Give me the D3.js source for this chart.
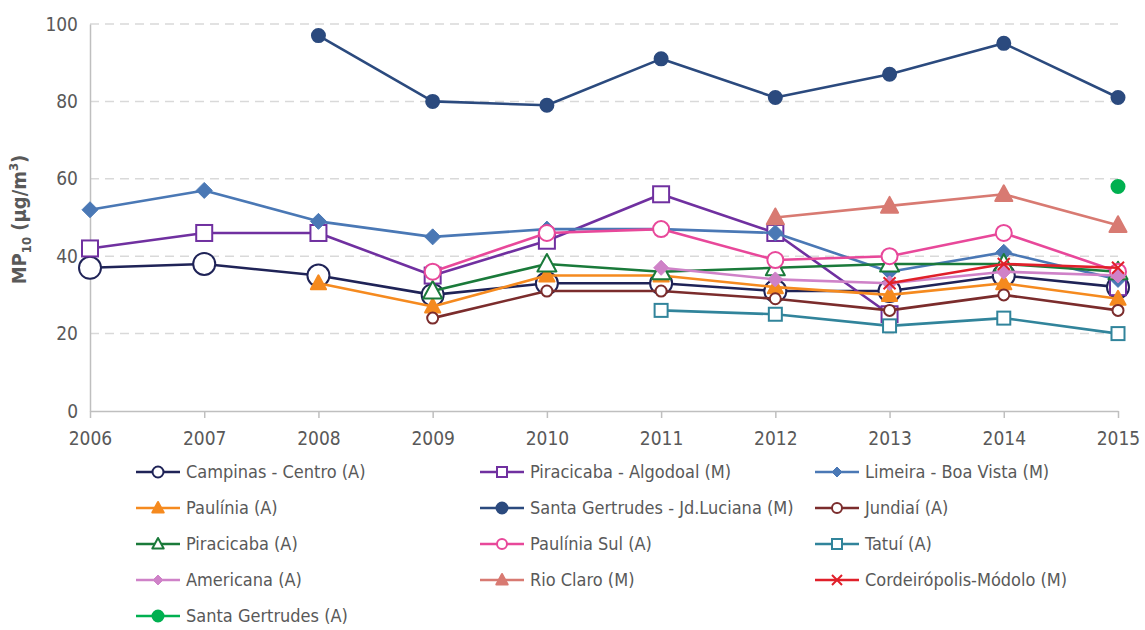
<!DOCTYPE html>
<html>
<head>
<meta charset="utf-8">
<script src="https://cdn.jsdelivr.net/npm/d3@7"></script>
<style>
  html, body { margin: 0; padding: 0; background: #fff; }
  svg text { font-family: "DejaVu Sans Condensed", "Liberation Sans Narrow", "Roboto", sans-serif; fill: #595959; }
</style>
</head>
<body>
<svg id="chart" width="1145" height="630"></svg>
<script>
// Annual mean PM10 per monitoring station
const years = [2006, 2007, 2008, 2009, 2010, 2011, 2012, 2013, 2014, 2015];
const yTicks = [0, 20, 40, 60, 80, 100];

const campinasCentro   = [37, 38, 35, 30, 33, 33, 31, 31, 35, 32];
const piracicabaAlgod  = [42, 46, 46, 35, 44, 56, 46, 25, null, 32];
const limeiraBoaVista  = [52, 57, 49, 45, 47, 47, 46, 36, 41, 34];
const paulinia         = [null, null, 33, 27, 35, 35, 32, 30, 33, 29];
const santaGertJdLuc   = [null, null, 97, 80, 79, 91, 81, 87, 95, 81];
const jundiai          = [null, null, null, 24, 31, 31, 29, 26, 30, 26];
const piracicaba       = [null, null, null, 31, 38, 36, 37, 38, 38, 36];
const pauliniaSul      = [null, null, null, 36, 46, 47, 39, 40, 46, 36];
const tatui            = [null, null, null, null, null, 26, 25, 22, 24, 20];
const americana        = [null, null, null, null, null, 37, 34, 33, 36, 35];
const rioClaro         = [null, null, null, null, null, null, 50, 53, 56, 48];
const cordeiropolis    = [null, null, null, null, null, null, null, 33, 38, 37];
const santaGertrudes   = [null, null, null, null, null, null, null, null, null, 58];

const seriesNames = [
  "Campinas - Centro (A)", "Piracicaba - Algodoal (M)", "Limeira - Boa Vista (M)",
  "Paulínia (A)", "Santa Gertrudes - Jd.Luciana (M)", "Jundiaí (A)",
  "Piracicaba (A)", "Paulínia Sul (A)", "Tatuí (A)",
  "Americana (A)", "Rio Claro (M)", "Cordeirópolis-Módolo (M)",
  "Santa Gertrudes (A)"
];
const seriesValues = [
  campinasCentro, piracicabaAlgod, limeiraBoaVista,
  paulinia, santaGertJdLuc, jundiai,
  piracicaba, pauliniaSul, tatui,
  americana, rioClaro, cordeiropolis,
  santaGertrudes
];

// Styling per series: colour, marker shape, filled?, marker size (plot / legend)
const styles = [
  { color: "#1f2357", shape: "circle",   fill: false, size: 11,  lsize: 5.5 },
  { color: "#7030a0", shape: "square",   fill: false, size: 8,   lsize: 5 },
  { color: "#4a78b5", shape: "diamond",  fill: true,  size: 8,   lsize: 5 },
  { color: "#f58a1f", shape: "triangle", fill: true,  size: 8,   lsize: 6 },
  { color: "#2b4a7e", shape: "circle",   fill: true,  size: 6.5, lsize: 5.5 },
  { color: "#7b2c2c", shape: "circle",   fill: false, size: 5.5, lsize: 5 },
  { color: "#1a7a3a", shape: "triangle", fill: false, size: 10,  lsize: 6 },
  { color: "#e8489a", shape: "circle",   fill: false, size: 8,   lsize: 5 },
  { color: "#31849b", shape: "square",   fill: false, size: 6.5, lsize: 5 },
  { color: "#cf82c8", shape: "diamond",  fill: true,  size: 7.5, lsize: 5 },
  { color: "#d87a72", shape: "triangle", fill: true,  size: 9,   lsize: 6 },
  { color: "#e0202a", shape: "cross",    fill: false, size: 6,   lsize: 5 },
  { color: "#00b050", shape: "circle",   fill: true,  size: 6.5, lsize: 5.5 }
];

const svg = d3.select("#chart");
const margin = { left: 90, right: 27, top: 24, bottom: 219 };
const W = 1145, H = 630;

const x = d3.scalePoint().domain(years).range([margin.left, W - margin.right]);
const y = d3.scaleLinear().domain([0, 100]).range([H - margin.bottom, margin.top]);

// Dashed horizontal gridlines
svg.append("g").selectAll("line")
  .data(yTicks.filter(t => t > 0))
  .join("line")
  .attr("x1", margin.left).attr("x2", W - margin.right)
  .attr("y1", d => y(d)).attr("y2", d => y(d))
  .attr("stroke", "#d9d9d9").attr("stroke-width", 1.5)
  .attr("stroke-dasharray", "9,6");

// Y axis
const yAxis = svg.append("g")
  .attr("transform", `translate(${margin.left},0)`)
  .call(d3.axisLeft(y).tickValues(yTicks).tickSize(0).tickPadding(12));
yAxis.select(".domain").attr("stroke", "#bfbfbf").attr("stroke-width", 1.5);
yAxis.selectAll("text").attr("font-size", 19).style("font-family", null);

// X axis
const xAxis = svg.append("g")
  .attr("transform", `translate(0,${y(0)})`)
  .call(d3.axisBottom(x).tickSize(7).tickPadding(14).tickSizeOuter(0));
xAxis.select(".domain").attr("stroke", "#bfbfbf").attr("stroke-width", 1.5);
xAxis.selectAll("line").attr("stroke", "#bfbfbf").attr("stroke-width", 1.5);
xAxis.selectAll("text").attr("font-size", 19).style("font-family", null);

// Y axis title
const yTitle = svg.append("text")
  .attr("transform", `translate(26,${(y(0) + y(100)) / 2 + 2}) rotate(-90)`)
  .attr("text-anchor", "middle")
  .attr("font-size", 20).attr("font-weight", "bold");
yTitle.append("tspan").text("MP");
yTitle.append("tspan").attr("font-size", 13).attr("dy", 5).text("10");
yTitle.append("tspan").attr("dy", -5).text(" (µg/m");
yTitle.append("tspan").attr("font-size", 13).attr("dy", -8).text("3");
yTitle.append("tspan").attr("dy", 8).text(")");

// Marker drawing helper
function drawMarker(g, st, r) {
  const sw = 2;
  const fill = st.fill ? st.color : "#fff";
  if (st.shape === "circle") {
    g.append("circle").attr("r", r).attr("fill", fill)
      .attr("stroke", st.color).attr("stroke-width", sw);
  } else if (st.shape === "square") {
    g.append("rect").attr("x", -r).attr("y", -r).attr("width", 2 * r).attr("height", 2 * r)
      .attr("fill", fill).attr("stroke", st.color).attr("stroke-width", sw);
  } else if (st.shape === "diamond") {
    g.append("path").attr("d", `M0,${-r}L${r},0L0,${r}L${-r},0Z`)
      .attr("fill", fill).attr("stroke", st.color).attr("stroke-width", 1);
  } else if (st.shape === "triangle") {
    g.append("path").attr("d", `M0,${-r}L${r * 0.95},${r * 0.75}L${-r * 0.95},${r * 0.75}Z`)
      .attr("fill", fill).attr("stroke", st.color).attr("stroke-width", sw)
      .attr("stroke-linejoin", "round");
  } else if (st.shape === "cross") {
    g.append("path").attr("d", `M${-r},${-r}L${r},${r}M${-r},${r}L${r},${-r}`)
      .attr("stroke", st.color).attr("stroke-width", 2);
  }
}

const line = d3.line()
  .defined(d => d.v != null)
  .x(d => x(d.year)).y(d => y(d.v));

const plot = svg.append("g");
seriesValues.forEach((vals, i) => {
  const st = styles[i];
  const pts = years.map((yr, j) => ({ year: yr, v: vals[j] }));
  const g = plot.append("g");
  g.append("path").datum(pts)
    .attr("d", line)
    .attr("fill", "none").attr("stroke", st.color).attr("stroke-width", 2.6)
    .attr("stroke-linejoin", "round");
  pts.filter(d => d.v != null).forEach(d => {
    const m = g.append("g").attr("transform", `translate(${x(d.year)},${y(d.v)})`);
    drawMarker(m, st, st.size);
  });
});

// Legend: three columns, row-major order
const legendCols = [136, 480, 815];
const legendRow0 = 472, legendRowStep = 36;
const legend = svg.append("g");
seriesNames.forEach((name, i) => {
  const st = styles[i];
  const col = i % 3, row = Math.floor(i / 3);
  const lg = legend.append("g")
    .attr("transform", `translate(${legendCols[col]},${legendRow0 + row * legendRowStep})`);
  lg.append("line").attr("x1", 0).attr("x2", 44).attr("y1", 0).attr("y2", 0)
    .attr("stroke", st.color).attr("stroke-width", 2.6);
  const m = lg.append("g").attr("transform", "translate(22,0)");
  drawMarker(m, st, st.lsize);
  lg.append("text").attr("x", 50).attr("y", 0).attr("dy", "0.35em")
    .attr("font-size", 18).text(name);
});
</script>
</body>
</html>
